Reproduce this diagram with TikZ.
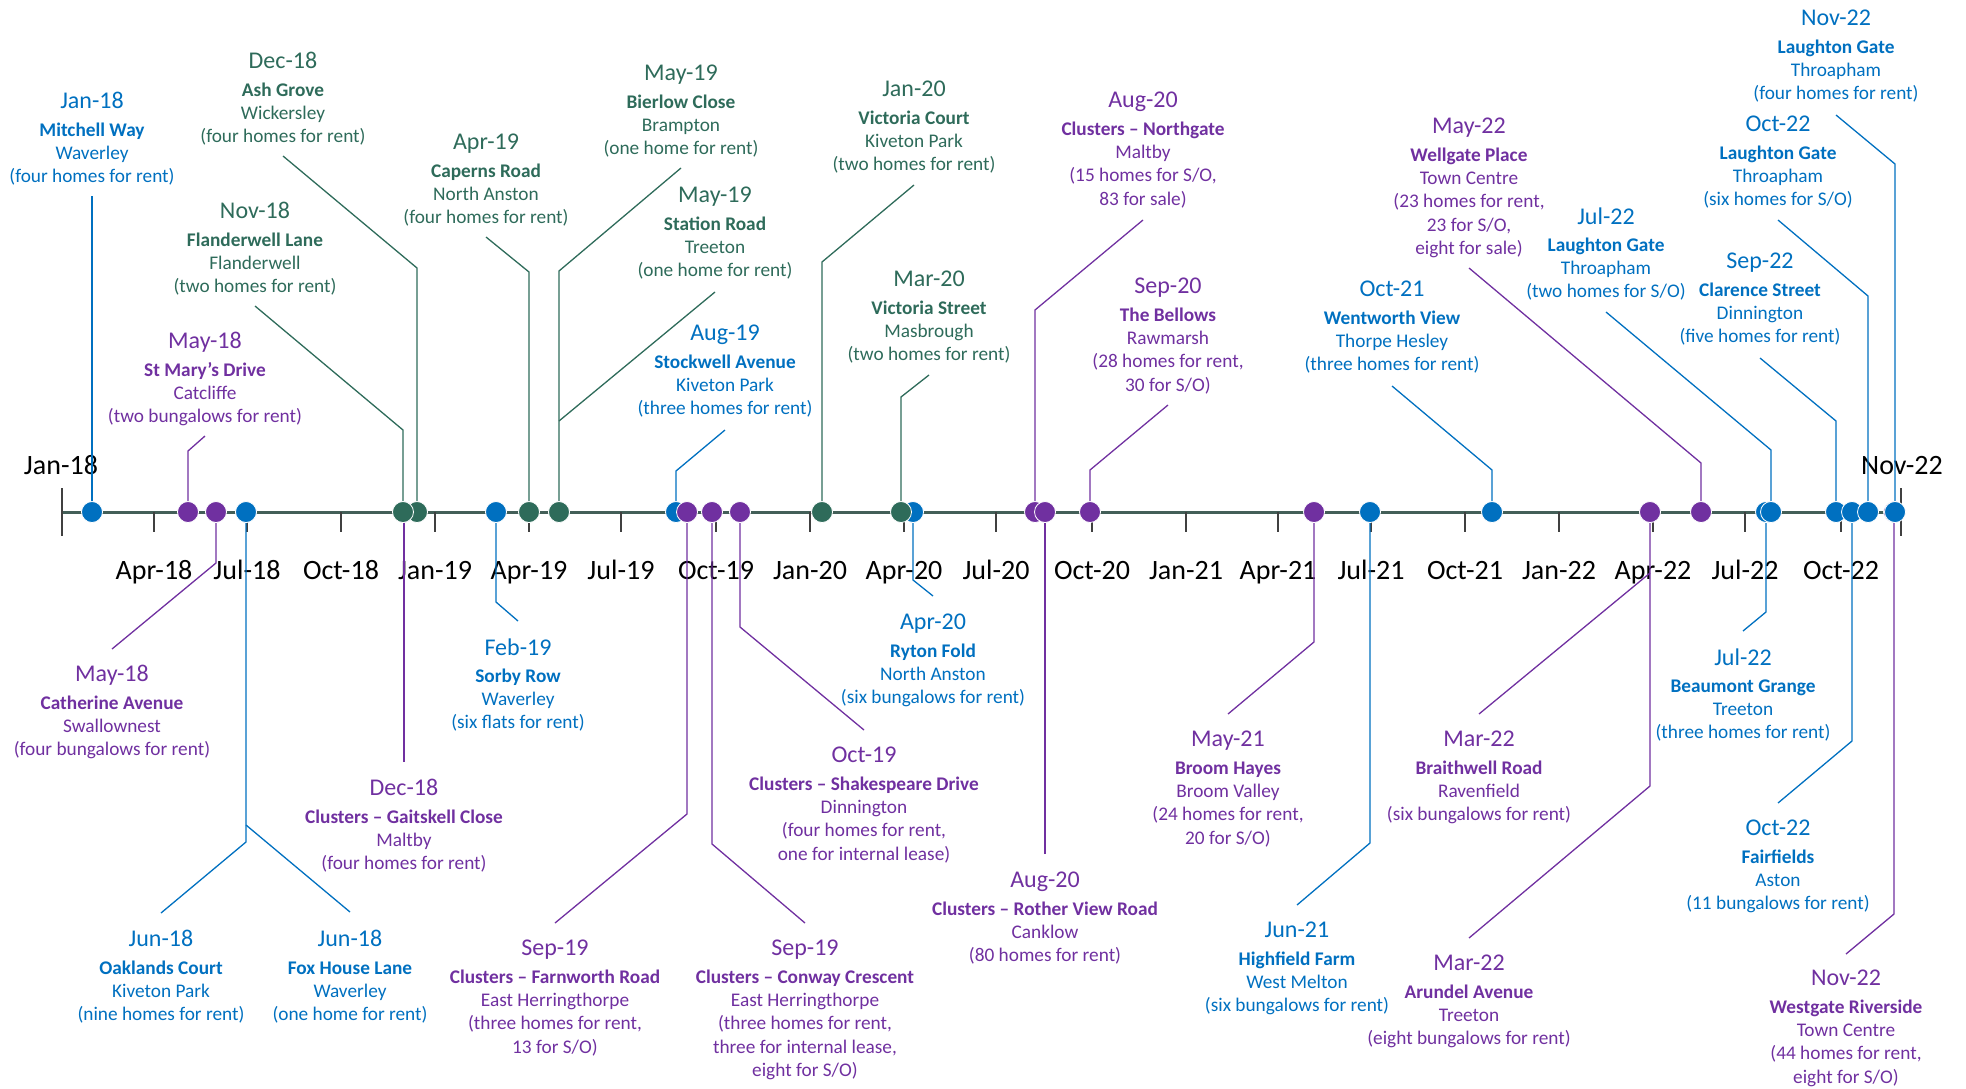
\documentclass[tikz,border=0pt]{standalone}
\usepackage{fontspec}
\setmainfont{Carlito}
\definecolor{cB}{HTML}{0070C0}
\definecolor{cP}{HTML}{7030A0}
\definecolor{cG}{HTML}{2E6B5A}
\definecolor{cAx}{HTML}{435F58}
\definecolor{cTk}{HTML}{404040}
\newcommand{\evt}[4]{{\fontsize{24}{24}\selectfont #1}\\[4pt]\textbf{#2}\\#3\\#4}
\tikzset{
  lab/.style={align=center, inner sep=0pt, anchor=north, font=\fontsize{19.3}{23.3}\selectfont},
  labB/.style={lab, text=cB}, labP/.style={lab, text=cP}, labG/.style={lab, text=cG},
  dotbase/.style={circle, draw=white, line width=0.8pt, minimum size=21pt, inner sep=0pt},
  dotB/.style={dotbase, fill=cB}, dotP/.style={dotbase, fill=cP}, dotG/.style={dotbase, fill=cG},
  leadB/.style={draw=cB, line width=1.3pt}, leadP/.style={draw=cP, line width=1.3pt}, leadG/.style={draw=cG, line width=1.3pt},
  axisline/.style={draw=cAx, line width=3pt},
  tickmark/.style={draw=cTk, line width=1.3pt},
  axlab/.style={font=\fontsize{28}{28}\selectfont, anchor=base, inner sep=0pt, text=black}
}
\begin{document}
\begin{tikzpicture}[x=1pt,y=-1pt]
\useasboundingbox (0,0) rectangle (1966,1088);
% axis
\coordinate (axS) at (62,512);
\coordinate (axE) at (1901,512);
\draw[axisline] (axS) -- (axE);
\draw[tickmark] (62,488) -- (62,536);
\draw[tickmark] (1901,488) -- (1901,536);
\foreach \x/\t [count=\i] in {154/Apr-18,247/Jul-18,341/Oct-18,435/Jan-19,529/Apr-19,621/Jul-19,716/Oct-19,810/Jan-20,904/Apr-20,996/Jul-20,1092/Oct-20,1186/Jan-21,1278/Apr-21,1371/Jul-21,1465/Oct-21,1559/Jan-22,1653/Apr-22,1745/Jul-22,1841/Oct-22}{
  \draw[tickmark] (\x,512) -- (\x,532);
  \node[axlab] (q\i) at (\x,579) {\t};
}
\node[axlab] (qs) at (61,474) {Jan-18};
\node[axlab] (qe) at (1902,474) {Nov-22};
% dot positions
\coordinate (d1) at (92,512);
\coordinate (d2) at (417,512);
\coordinate (d3) at (403,512);
\coordinate (d4) at (188,512);
\coordinate (d5) at (529,512);
\coordinate (d6) at (559,512);
\coordinate (d7) at (559,512);
\coordinate (d8) at (822,512);
\coordinate (d9) at (901,512);
\coordinate (d10) at (676,512);
\coordinate (d11) at (1035,512);
\coordinate (d12) at (1090,512);
\coordinate (d13) at (1701,512);
\coordinate (d14) at (1492,512);
\coordinate (d15) at (1771,512);
\coordinate (d16) at (1836,512);
\coordinate (d17) at (1868,512);
\coordinate (d18) at (1895,512);
\coordinate (d19) at (216,512);
\coordinate (d20) at (246,512);
\coordinate (d21) at (246,512);
\coordinate (d22) at (404,512);
\coordinate (d23) at (496,512);
\coordinate (d24) at (913,512);
\coordinate (d25) at (740,512);
\coordinate (d26) at (687,512);
\coordinate (d27) at (712,512);
\coordinate (d28) at (1045,512);
\coordinate (d29) at (1314,512);
\coordinate (d30) at (1370,512);
\coordinate (d31) at (1650,512);
\coordinate (d32) at (1650,512);
\coordinate (d33) at (1766,512);
\coordinate (d34) at (1852,512);
\coordinate (d35) at (1894,512);
% top labels
\node[labB] (L1) at (92,92.2) {\evt{Jan-18}{Mitchell Way}{Waverley}{(four homes for rent)}};
\node[labG] (L2) at (283,52.2) {\evt{Dec-18}{Ash Grove}{Wickersley}{(four homes for rent)}};
\node[labG] (L3) at (255,202.2) {\evt{Nov-18}{Flanderwell Lane}{Flanderwell}{(two homes for rent)}};
\node[labP] (L4) at (205,332.2) {\evt{May-18}{St Mary's Drive}{Catcliffe}{(two bungalows for rent)}};
\node[labG] (L5) at (486,134.2) {\evt{Apr-19}{Caperns Road}{North Anston}{(four homes for rent)}};
\node[labG] (L6) at (681,65.2) {\evt{May-19}{Bierlow Close}{Brampton}{(one home for rent)}};
\node[labG] (L7) at (715,187.2) {\evt{May-19}{Station Road}{Treeton}{(one home for rent)}};
\node[labG] (L8) at (914,81.2) {\evt{Jan-20}{Victoria Court}{Kiveton Park}{(two homes for rent)}};
\node[labG] (L9) at (929,271.2) {\evt{Mar-20}{Victoria Street}{Masbrough}{(two homes for rent)}};
\node[labB] (L10) at (725,325.2) {\evt{Aug-19}{Stockwell Avenue}{Kiveton Park}{(three homes for rent)}};
\node[labP] (L11) at (1143,92.2) {\evt{Aug-20}{Clusters \textendash\ Northgate}{Maltby}{(15 homes for S/O,\\83 for sale)}};
\node[labP] (L12) at (1168,278.2) {\evt{Sep-20}{The Bellows}{Rawmarsh}{(28 homes for rent,\\30 for S/O)}};
\node[labP] (L13) at (1469,118.2) {\evt{May-22}{Wellgate Place}{Town Centre}{(23 homes for rent,\\23 for S/O,\\eight for sale)}};
\node[labB] (L14) at (1392,281.2) {\evt{Oct-21}{Wentworth View}{Thorpe Hesley}{(three homes for rent)}};
\node[labB] (L15) at (1606,207.2) {\evt{Jul-22}{Laughton Gate}{Throapham}{(two homes for S/O)}};
\node[labB] (L16) at (1760,253.2) {\evt{Sep-22}{Clarence Street}{Dinnington}{(five homes for rent)}};
\node[labB] (L17) at (1778,116.2) {\evt{Oct-22}{Laughton Gate}{Throapham}{(six homes for S/O)}};
\node[labB] (L18) at (1836,10.2) {\evt{Nov-22}{Laughton Gate}{Throapham}{(four homes for rent)}};
% bottom labels
\node[labP] (L19) at (112,665.2) {\evt{May-18}{Catherine Avenue}{Swallownest}{(four bungalows for rent)}};
\node[labB] (L20) at (161,930.2) {\evt{Jun-18}{Oaklands Court}{Kiveton Park}{(nine homes for rent)}};
\node[labB] (L21) at (350,930.2) {\evt{Jun-18}{Fox House Lane}{Waverley}{(one home for rent)}};
\node[labP] (L22) at (404,779.2) {\evt{Dec-18}{Clusters \textendash\ Gaitskell Close}{Maltby}{(four homes for rent)}};
\node[labB] (L23) at (518,638.2) {\evt{Feb-19}{Sorby Row}{Waverley}{(six flats for rent)}};
\node[labB] (L24) at (933,614.2) {\evt{Apr-20}{Ryton Fold}{North Anston}{(six bungalows for rent)}};
\node[labP] (L25) at (864,747.2) {\evt{Oct-19}{Clusters \textendash\ Shakespeare Drive}{Dinnington}{(four homes for rent,\\one for internal lease)}};
\node[labP] (L26) at (555,940.2) {\evt{Sep-19}{Clusters \textendash\ Farnworth Road}{East Herringthorpe}{(three homes for rent,\\13 for S/O)}};
\node[labP] (L27) at (805,940.2) {\evt{Sep-19}{Clusters \textendash\ Conway Crescent}{East Herringthorpe}{(three homes for rent,\\three for internal lease,\\eight for S/O)}};
\node[labP] (L28) at (1045,872.2) {\evt{Aug-20}{Clusters \textendash\ Rother View Road}{Canklow}{(80 homes for rent)}};
\node[labP] (L29) at (1228,731.2) {\evt{May-21}{Broom Hayes}{Broom Valley}{(24 homes for rent,\\20 for S/O)}};
\node[labB] (L30) at (1297,922.2) {\evt{Jun-21}{Highfield Farm}{West Melton}{(six bungalows for rent)}};
\node[labP] (L31) at (1479,731.2) {\evt{Mar-22}{Braithwell Road}{Ravenfield}{(six bungalows for rent)}};
\node[labP] (L32) at (1469,955.2) {\evt{Mar-22}{Arundel Avenue}{Treeton}{(eight bungalows for rent)}};
\node[labB] (L33) at (1743,648.2) {\evt{Jul-22}{Beaumont Grange}{Treeton}{(three homes for rent)}};
\node[labB] (L34) at (1778,820.2) {\evt{Oct-22}{Fairfields}{Aston}{(11 bungalows for rent)}};
\node[labP] (L35) at (1846,970.2) {\evt{Nov-22}{Westgate Riverside}{Town Centre}{(44 homes for rent,\\eight for S/O)}};
% leaders top
\draw[leadB] (L1 |- 0,196) -- (d1);
\draw[leadG] (L2 |- 0,156) -- (d2 |- 0,268) -- (d2);
\draw[leadG] (L3 |- 0,306) -- (d3 |- 0,430) -- (d3);
\draw[leadP] (L4 |- 0,436) -- (d4 |- 0,451) -- (d4);
\draw[leadG] (L5 |- 0,237) -- (d5 |- 0,272) -- (d5);
\draw[leadG] (L6 |- 0,168) -- (d6 |- 0,271) -- (d6);
\draw[leadG] (L7 |- 0,292) -- (d7 |- 0,421);
\draw[leadG] (L8 |- 0,185) -- (d8 |- 0,262) -- (d8);
\draw[leadG] (L9 |- 0,375) -- (d9 |- 0,397) -- (d9);
\draw[leadB] (L10 |- 0,430) -- (d10 |- 0,471) -- (d10);
\draw[leadP] (L11 |- 0,220) -- (d11 |- 0,310) -- (d11);
\draw[leadP] (L12 |- 0,405) -- (d12 |- 0,470) -- (d12);
\draw[leadP] (L13 |- 0,268) -- (d13 |- 0,463) -- (d13);
\draw[leadB] (L14 |- 0,386) -- (d14 |- 0,470) -- (d14);
\draw[leadB] (L15 |- 0,312) -- (d15 |- 0,450) -- (d15);
\draw[leadB] (L16 |- 0,358) -- (d16 |- 0,421) -- (d16);
\draw[leadB] (L17 |- 0,220) -- (d17 |- 0,296) -- (d17);
\draw[leadB] (L18 |- 0,115) -- (d18 |- 0,164) -- (d18);
% leaders bottom
\draw[leadP] (L19 |- 0,649) -- (d19 |- 0,563) -- (d19);
\draw[leadB] (L20 |- 0,913) -- (d20 |- 0,842) -- (d20);
\draw[leadB] (L21 |- 0,912) -- (d21 |- 0,825);
\draw[leadP] (L22 |- 0,762) -- (d22);
\draw[leadB] (L23 |- 0,621) -- (d23 |- 0,602) -- (d23);
\draw[leadB] (L24 |- 0,596) -- (d24 |- 0,580) -- (d24);
\draw[leadP] (L25 |- 0,730) -- (d25 |- 0,627) -- (d25);
\draw[leadP] (L26 |- 0,923) -- (d26 |- 0,814) -- (d26);
\draw[leadP] (L27 |- 0,923) -- (d27 |- 0,844) -- (d27);
\draw[leadP] (L28 |- 0,854) -- (d28);
\draw[leadP] (L29 |- 0,714) -- (d29 |- 0,642) -- (d29);
\draw[leadB] (L30 |- 0,905) -- (d30 |- 0,843) -- (d30);
\draw[leadP] (L31 |- 0,714) -- (d31 |- 0,573);
\draw[leadP] (L32 |- 0,938) -- (d32 |- 0,786) -- (d32);
\draw[leadB] (L33 |- 0,631) -- (d33 |- 0,612) -- (d33);
\draw[leadB] (L34 |- 0,803) -- (d34 |- 0,741) -- (d34);
\draw[leadP] (L35 |- 0,954) -- (d35 |- 0,914) -- (d35);
% dots (drawing order = stacking)
\node[dotP] (D22) at (d22) {};
\node[dotG] (D2) at (d2) {};
\node[dotG] (D3) at (d3) {};
\node[dotB] (D1) at (d1) {};
\node[dotP] (D4) at (d4) {};
\node[dotP] (D19) at (d19) {};
\node[dotB] (D20) at (d20) {};
\node[dotB] (D21) at (d21) {};
\node[dotB] (D23) at (d23) {};
\node[dotG] (D5) at (d5) {};
\node[dotG] (D6) at (d6) {};
\node[dotG] (D7) at (d7) {};
\node[dotB] (D10) at (d10) {};
\node[dotP] (D26) at (d26) {};
\node[dotP] (D27) at (d27) {};
\node[dotP] (D25) at (d25) {};
\node[dotG] (D8) at (d8) {};
\node[dotB] (D24) at (d24) {};
\node[dotG] (D9) at (d9) {};
\node[dotP] (D11) at (d11) {};
\node[dotP] (D28) at (d28) {};
\node[dotP] (D12) at (d12) {};
\node[dotP] (D29) at (d29) {};
\node[dotB] (D30) at (d30) {};
\node[dotB] (D14) at (d14) {};
\node[dotP] (D31) at (d31) {};
\node[dotP] (D32) at (d32) {};
\node[dotP] (D13) at (d13) {};
\node[dotB] (D33) at (d33) {};
\node[dotB] (D15) at (d15) {};
\node[dotB] (D16) at (d16) {};
\node[dotB] (D34) at (d34) {};
\node[dotB] (D17) at (d17) {};
\node[dotP] (D35) at (d35) {};
\node[dotB] (D18) at (d18) {};
\end{tikzpicture}
\end{document}
